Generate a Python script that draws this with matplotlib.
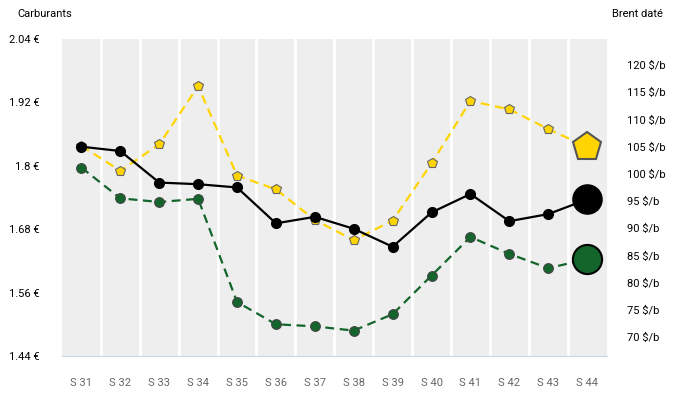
import numpy as np
import matplotlib.pyplot as plt

plt.rcParams['font.family'] = ['Roboto', 'DejaVu Sans']

semaines = ['S 31', 'S 32', 'S 33', 'S 34', 'S 35', 'S 36', 'S 37',
            'S 38', 'S 39', 'S 40', 'S 41', 'S 42', 'S 43', 'S 44']

# Carburants (€/l)
sp95 = [1.837, 1.790, 1.840, 1.950, 1.781, 1.755, 1.697,
        1.659, 1.696, 1.804, 1.922, 1.906, 1.869, 1.835]
gazole = [1.796, 1.738, 1.731, 1.737, 1.542, 1.500, 1.496,
          1.488, 1.519, 1.592, 1.665, 1.633, 1.606, 1.623]

# Brent daté ($/b)
brent = [105.0, 104.2, 98.4, 98.1, 97.5, 90.9, 92.1,
         89.9, 86.6, 92.9, 96.3, 91.3, 92.6, 95.3]

left_ticks = [1.44, 1.56, 1.68, 1.8, 1.92, 2.04]
right_ticks = [70, 75, 80, 85, 90, 95, 100, 105, 110, 115, 120]

fig = plt.figure(figsize=(6.8, 4.07), dpi=100)
ax = fig.add_axes([0.0912, 0.1253, 0.8008, 0.7801])
ax2 = ax.twinx()

x = np.arange(len(semaines))

# fond gris en colonnes
ax.set_facecolor('#eeeeee')
for i in range(len(semaines) - 1):
    ax.axvline(i + 0.5, color='white', lw=2, zorder=0.5)

jaune = '#ffd400'
vert = '#13652b'

ax.plot(x, sp95, color=jaune, lw=1.6, ls=(0, (4, 2.5)), zorder=2)
ax.plot(x[:-1], sp95[:-1], ls='none', marker='p', ms=7.5, mfc=jaune,
        mec='#666666', mew=0.8, zorder=3)
ax.plot(x[-1], sp95[-1], ls='none', marker='p', ms=21, mfc=jaune,
        mec='#555555', mew=1.5, zorder=3)

ax.plot(x, gazole, color=vert, lw=1.6, ls=(0, (4, 2.5)), zorder=2)
ax.plot(x[:-1], gazole[:-1], ls='none', marker='o', ms=7, mfc=vert,
        mec='#444444', mew=0.8, zorder=3)
ax.plot(x[-1], gazole[-1], ls='none', marker='o', ms=21, mfc=vert,
        mec='black', mew=1.5, zorder=3)

ax2.plot(x, brent, color='black', lw=1.6, zorder=2)
ax2.plot(x[:-1], brent[:-1], ls='none', marker='o', ms=7, mfc='black',
         mec='black', zorder=3)
ax2.plot(x[-1], brent[-1], ls='none', marker='o', ms=21, mfc='black',
         mec='black', zorder=3)

ax.set_xlim(-0.5, len(semaines) - 0.5)
ax.set_ylim(1.44, 2.04)
ax2.set_ylim(66.5, 124.9)

ax.set_xticks(x, semaines)
ax.set_yticks(left_ticks, [f'{v:g} €' for v in left_ticks])
ax2.set_yticks(right_ticks, [f'{v} $/b' for v in right_ticks])

ax.tick_params(axis='x', length=0, pad=16, labelsize=8, labelcolor='#666666')
ax.tick_params(axis='y', length=0, pad=16, labelsize=8)
ax2.tick_params(axis='y', length=0, pad=15, labelsize=8)

for a in (ax, ax2):
    for s in a.spines.values():
        s.set_visible(False)
ax.spines['bottom'].set_visible(True)
ax.spines['bottom'].set_color('#c5d5ea')

fig.text(17 / 680, 1 - 14 / 407, 'Carburants', fontsize=8, va='center')
fig.text(612 / 680, 1 - 14 / 407, 'Brent daté', fontsize=8, va='center')

fig.savefig('out.png', dpi=100)
